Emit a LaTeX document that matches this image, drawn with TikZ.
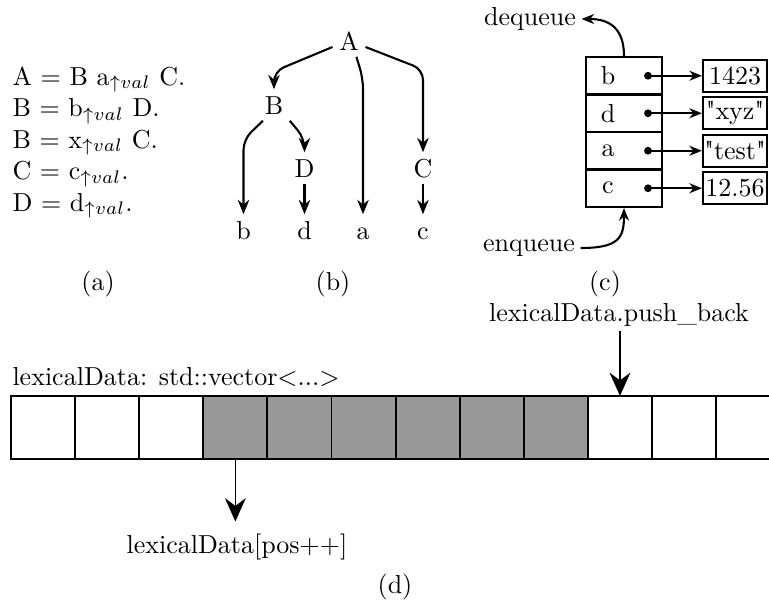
\documentclass[tikz,border=0pt]{standalone}
\usetikzlibrary{arrows.meta,calc}
\begin{document}
\begin{tikzpicture}[x=0.3846pt,y=-0.3846pt,
  gline/.style={anchor=base west,inner sep=0pt},
  tn/.style={text height=6.94pt,text depth=0pt,inner sep=2.4pt,anchor=base},
  tedge/.style={line width=0.8pt,-{Stealth[length=5.5pt,width=4.4pt,inset=1.8pt]},rounded corners=4pt},
  qcell/.style={draw,line width=0.85pt,minimum width=29.23pt,minimum height=14.42pt,inner sep=0pt},
  qval/.style={draw,line width=0.85pt,minimum width=24.6pt,minimum height=12.3pt,inner sep=0pt},
  qdot/.style={circle,fill,inner sep=0pt,minimum size=3pt},
  qarrow/.style={line width=0.8pt,-{Stealth[length=4.8pt,width=3.8pt,inset=1.5pt]}},
  qlabel/.style={inner sep=2pt},
  vcell/.style={draw,line width=0.75pt,minimum width=24.65pt,minimum height=24.23pt,inner sep=0pt,outer sep=0pt},
  filled/.style={fill=black!40},
  varrow/.style={line width=0.6pt,-{Stealth[length=9pt,width=8pt,inset=3pt]}},
  caption/.style={inner sep=0pt}
]
\useasboundingbox (0,0) rectangle (769,601);

% (a) grammar
\node[gline] (g1) at (12,85)    {A $=$ B a$_{\uparrow val}$ C.};
\node[gline] (g2) at (12,116.5) {B $=$ b$_{\uparrow val}$ D.};
\node[gline] (g3) at (12,148)   {B $=$ x$_{\uparrow val}$ C.};
\node[gline] (g4) at (12,179.5) {C $=$ c$_{\uparrow val}$.};
\node[gline] (g5) at (12,211)   {D $=$ d$_{\uparrow val}$.};

% (b) derivation tree
\node[tn] (A) at (349,50) {A};
\node[tn] (B) at (274,114) {B};
\node[tn] (D) at (304.5,177) {D};
\node[tn] (C) at (423,177) {C};
\node[tn] (lb) at (243.5,239) {b};
\node[tn] (ld) at (304.5,239) {d};
\node[tn] (la) at (363,239) {a};
\node[tn] (lc) at (423,239) {c};

\draw[tedge] (A.200) -- ($(B.north)+(0,-17.8)$) -- (B.north);
\draw[tedge] (A.-65) -- ($(la.north)+(0,-135.8)$) -- (la.north);
\draw[tedge] (A.-20) -- ($(C.north)+(0,-82.8)$) -- (C.north);
\draw[tedge] (B.235) -- ($(lb.north)+(0,-74.8)$) -- (lb.north);
\draw[tedge] (B.-45) -- ($(D.north)+(0,-13.8)$) -- (D.north);
\draw[tedge] (D.south) -- (ld.north);
\draw[tedge] (C.south) -- (lc.north);

% (c) queue of tokens with their values
\node[qcell] (q1) at (624,75.75)  {};
\node[qcell] (q2) at (624,113.25) {};
\node[qcell] (q3) at (624,150.75) {};
\node[qcell] (q4) at (624,188.25) {};
\node (k1) at (608,75.75)  {b};
\node (k2) at (608,113.25) {d};
\node (k3) at (608,150.75) {a};
\node (k4) at (608,188.25) {c};
\node[qdot] (p1) at (648,75.75)  {};
\node[qdot] (p2) at (648,113.25) {};
\node[qdot] (p3) at (648,150.75) {};
\node[qdot] (p4) at (648,188.25) {};
\node[qval] (v1) at (735,75.75)  {1423};
\node[qval] (v2) at (735,113.25) {\textquotedbl xyz\textquotedbl};
\node[qval] (v3) at (735,150.75) {\textquotedbl test\textquotedbl};
\node[qval] (v4) at (735,188.25) {12.56};
\foreach \i in {1,...,4} { \draw[qarrow] (p\i.center) -- (v\i.west); }

\node[qlabel] (deq) at (530,19) {dequeue};
\node[qlabel] (enq) at (529,248) {enqueue};
\draw[qarrow] (q1.north) .. controls ($(q1.north)+(0,-34)$) and ($(deq.east)+(20,0)$) .. (deq.east);
\draw[qarrow] (enq.east) .. controls ($(enq.east)+(38,0)$) and ($(q4.south)+(0,30)$) .. (q4.south);

% captions
\node[caption] (ca) at (98,284) {(a)};
\node[caption] (cb) at (333,284) {(b)};
\node[caption] (cc) at (605,284) {(c)};

% (d) vector of lexical data
\foreach \i in {0,1,2,9,10,11} {
  \pgfmathsetmacro\cx{11+64.1*(\i+0.5)}
  \node[vcell] (c\i) at (\cx,427.5) {};
}
\foreach \i in {3,...,8} {
  \pgfmathsetmacro\cx{11+64.1*(\i+0.5)}
  \node[vcell,filled] (c\i) at (\cx,427.5) {};
}
\node[anchor=base west,inner sep=0pt] (vlab) at (12,385) {lexicalData: std::vector$<$...$>$};
\node[inner sep=1.5pt] (push) at (619,315) {lexicalData.push\_back};
\node[inner sep=4.4pt] (pos) at (237,546.5) {lexicalData[pos++]};
\draw[varrow] (c9.north |- push.south) -- (c9.north);
\draw[varrow] (c3.south) -- (c3.south |- pos.north);
\node[caption] (cd) at (395,587) {(d)};
\end{tikzpicture}
\end{document}
